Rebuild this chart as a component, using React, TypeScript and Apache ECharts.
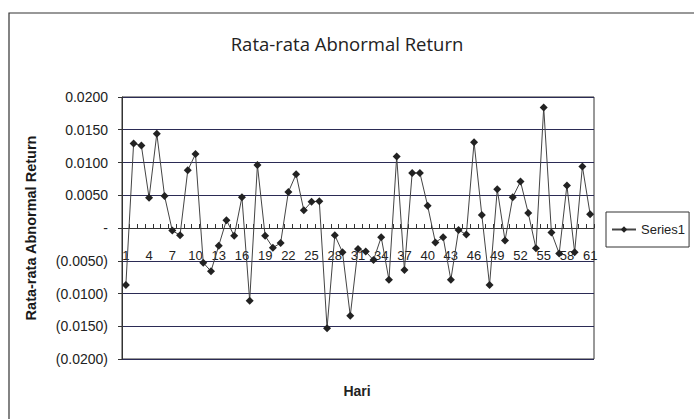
import React, { useEffect, useRef } from "react";
import * as echarts from "echarts";

const days: string[] = Array.from({ length: 61 }, (_, i) => String(i + 1));
const abnormalReturn: number[] = [
  -0.0087, 0.0129, 0.0126, 0.0046, 0.0144, 0.0049, -0.0004, -0.0011, 0.0088, 0.0113,
  -0.0053, -0.0066, -0.0027, 0.0012, -0.0012, 0.0047, -0.0111, 0.0096, -0.0012, -0.0030,
  -0.0023, 0.0055, 0.0082, 0.0027, 0.0040, 0.0041, -0.0153, -0.0011, -0.0037, -0.0134,
  -0.0032, -0.0036, -0.0049, -0.0014, -0.0079, 0.0109, -0.0064, 0.0084, 0.0084, 0.0034,
  -0.0022, -0.0014, -0.0079, -0.0003, -0.0010, 0.0131, 0.0020, -0.0087, 0.0059, -0.0019,
  0.0047, 0.0071, 0.0023, -0.0031, 0.0184, -0.0007, -0.0039, 0.0065, -0.0037, 0.0094,
  0.0021,
];

const AXFONT = "'Liberation Sans', Arial, sans-serif";
const TFONT = "'Open Sans', Lato, sans-serif";

const GRID_TOP = 97;
const GRID_BOTTOM = 60;
const CHART_H = 419;
const Y_MIN = -0.02;
const Y_MAX = 0.02;
// distance from bottom of plot to the zero line (layout only)
const plotH = CHART_H - GRID_TOP - GRID_BOTTOM;
const zeroOffset = (plotH * (0 - Y_MIN)) / (Y_MAX - Y_MIN);

export default function App() {
  const ref = useRef<HTMLDivElement>(null);
  useEffect(() => {
    if (!ref.current) return;
    const chart = echarts.init(ref.current, null, { renderer: "svg" });
    chart.setOption({
      animation: false,
      backgroundColor: "#ffffff",
      textStyle: { fontFamily: AXFONT },
      title: {
        text: "Rata-rata Abnormal Return",
        left: 342,
        top: 29,
        textAlign: "center",
        textStyle: { fontSize: 18.5, fontWeight: "normal", color: "#222", fontFamily: TFONT },
      },
      graphic: [
        {
          type: "rect",
          shape: { x: 9, y: 13, width: 720, height: 440 },
          style: { fill: "none", stroke: "#333", lineWidth: 1.2 },
          silent: true,
        },
        {
          type: "text",
          x: 357,
          y: 391,
          style: {
            text: "Hari",
            fontSize: 14,
            fontWeight: "bold",
            fill: "#222",
            fontFamily: AXFONT,
            align: "center",
            verticalAlign: "middle",
          },
          silent: true,
        },
      ],
      legend: {
        left: 606,
        top: 212,
        orient: "vertical",
        borderColor: "#333",
        borderWidth: 1,
        padding: [11, 4, 11, 5],
        itemWidth: 24,
        itemHeight: 8,
        itemGap: 4,
        textStyle: { fontSize: 13, color: "#222", fontFamily: AXFONT },
        data: ["Series1"],
      },
      grid: {
        left: 122,
        right: 100,
        top: GRID_TOP,
        bottom: GRID_BOTTOM,
        show: true,
        borderColor: "#333",
        borderWidth: 1,
        containLabel: false,
        outerBoundsMode: "none",
      },
      xAxis: {
        type: "category",
        data: days,
        boundaryGap: true,
        position: "bottom",
        offset: -zeroOffset,
        axisLine: { onZero: false, lineStyle: { color: "#333", width: 1 } },
        axisTick: { show: true, inside: true, length: 4, interval: 0, lineStyle: { color: "#333" } },
        axisLabel: { interval: 2, margin: 21, fontSize: 13, color: "#222", fontFamily: AXFONT },
        splitLine: { show: false },
      },
      yAxis: {
        type: "value",
        min: Y_MIN,
        max: Y_MAX,
        interval: 0.005,
        name: "Rata-rata Abnormal Return",
        nameLocation: "middle",
        nameGap: 84,
        nameTextStyle: { fontSize: 14.5, color: "#1a1a1a", fontWeight: "bold", fontFamily: AXFONT },
        axisLine: { show: true, lineStyle: { color: "#333", width: 1 } },
        axisTick: { show: true, length: 4, lineStyle: { color: "#333" } },
        axisLabel: {
          fontSize: 14,
          color: "#222",
          margin: 14,
          fontFamily: AXFONT,
          formatter: (v: number) => {
            if (Math.abs(v) < 1e-9) return "-";
            if (v < 0) return "(" + Math.abs(v).toFixed(4) + ")";
            return v.toFixed(4);
          },
        },
        splitLine: { show: true, lineStyle: { color: "#2b2b55", width: 1.2 } },
      },
      series: [
        {
          name: "Series1",
          type: "line",
          data: abnormalReturn,
          symbol: "diamond",
          symbolSize: 8,
          showAllSymbol: true,
          lineStyle: { color: "#444", width: 1 },
          itemStyle: { color: "#222" },
        },
      ],
    });
    return () => chart.dispose();
  }, []);
  return <div ref={ref} style={{ width: 694, height: 419, position: "absolute", left: 0, top: 0 }} />;
}
